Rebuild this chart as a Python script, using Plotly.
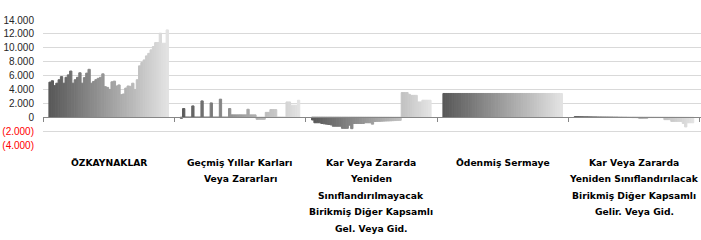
import plotly.graph_objects as go

categories = [
    "ÖZKAYNAKLAR",
    "Geçmiş Yıllar Karları<br>Veya Zararları",
    "Kar Veya Zararda<br>Yeniden<br>Sınıflandırılmayacak<br>Birikmiş Diğer Kapsamlı<br>Gel. Veya Gid.",
    "Ödenmiş Sermaye",
    "Kar Veya Zararda<br>Yeniden Sınıflandırılacak<br>Birikmiş Diğer Kapsamlı<br>Gelir. Veya Gid.",
]

years = [2011, 2012, 2013, 2014, 2015, 2016, 2017, 2018, 2019, 2020, 2021, 2022, 2023]
quarters = ["Q1", "Q2", "Q3", "Q4"]
periods = [f"{y} {q}" for y in years for q in quarters]

ozkaynaklar = [5050, 5250, 4550, 4900, 5400, 5850, 4900, 5750, 6100, 6650,
               4900, 5400, 5750, 6400, 4900, 5700, 6350, 6900, 4900, 5150,
               5400, 5600, 5750, 6250, 4400, 4300, 4000, 5100, 5200, 4500,
               4650, 3250, 3350, 4200, 4500, 4450, 4900, 4000, 5400, 7400,
               7870, 8250, 8830, 9200, 9700, 10180, 10750, 10750, 12100, 10650,
               10650, 12580]

gecmis = [-150, 1250, 0, 0, 0, 1630, 0, 0, 0, 2350,
          0, 0, 0, 2060, 0, 0, 0, 2600, 0, 0,
          0, 1250, 340, 340, 340, 340, 340, 340, 340, 1150,
          340, 340, 340, -300, -300, -300, -300, 700, 700, 1100,
          1100, 1100, 0, 0, 0, 0, 2200, 2200, 1730, 1730,
          1730, 2450]

siniflandirilmayacak = [-400, -800, -800, -800, -900, -950, -1000, -1050, -1100, -1300,
                        -1300, -1300, -1300, -1600, -1600, -1600, -1150, -1650, -900, -900,
                        -900, -900, -900, -800, -800, -800, -1000, -620, -600, -600,
                        -580, -560, -550, -540, -520, -500, -480, -460, -450, 3550,
                        3550, 3550, 3300, 3150, 3150, 3150, 2200, 2200, 2450, 2450,
                        2450, 2450]

sermaye = [3420, 3420, 3420, 3420, 3420, 3420, 3420, 3420, 3420, 3420,
           3420, 3420, 3420, 3420, 3420, 3420, 3420, 3420, 3420, 3420,
           3420, 3420, 3420, 3420, 3420, 3420, 3420, 3420, 3420, 3420,
           3420, 3420, 3420, 3420, 3420, 3420, 3420, 3420, 3420, 3420,
           3420, 3420, 3420, 3420, 3420, 3420, 3420, 3420, 3420, 3420,
           3420, 3420]

siniflandirilacak = [80, 80, 70, 70, 60, 60, 50, 50, 40, 40,
                     30, 30, 20, 20, 20, 10, 10, 0, 0, -20,
                     -20, -30, -30, -40, -40, -50, -50, -60, -150, -150,
                     -150, -150, -50, -50, -50, -50, -50, -50, -50, -350,
                     -350, -350, -600, -600, -600, -600, -600, -900, -1400, -800,
                     -800, -800]

tick_vals = [-4000, -2000, 0, 2000, 4000, 6000, 8000, 10000, 12000, 14000]
tick_text = ["<span style='color:#ff0000'>(4.000)</span>",
             "<span style='color:#ff0000'>(2.000)</span>",
             "0", "2.000", "4.000", "6.000", "8.000", "10.000", "12.000", "14.000"]

series = [ozkaynaklar, gecmis, siniflandirilmayacak, sermaye, siniflandirilacak]
n = len(periods)

fig = go.Figure()
for i, p in enumerate(periods):
    t = i / (n - 1)
    g = int(round(88 + (226 - 88) * t))
    col = f"rgb({g},{g},{g})"
    fig.add_trace(go.Bar(
        x=categories,
        y=[s[i] for s in series],
        name=p,
        marker=dict(color=col, line=dict(width=1, color=col)),
    ))

ymin, ymax = -4000, 14000
fig.update_layout(
    width=701, height=240,
    margin=dict(l=43, r=0, t=20, b=95),
    barmode="group", bargap=0.09, bargroupgap=0,
    plot_bgcolor="white", paper_bgcolor="white",
    showlegend=False,
    xaxis=dict(
        type="category", anchor="free", position=(0 - ymin) / (ymax - ymin),
        showline=True, linecolor="#868686", linewidth=1,
        ticks="outside", ticklen=4, tickcolor="#868686", tickson="boundaries",
        showticklabels=False, showgrid=False, zeroline=False,
    ),
    yaxis=dict(
        range=[ymin, ymax], tickvals=tick_vals, ticktext=tick_text,
        showgrid=True, gridcolor="#d9d9d9", gridwidth=1,
        zeroline=False, showline=False, ticks="",
        tickfont=dict(family="Liberation Sans", size=10, color="#262626"),
        ticklabelstandoff=8,
    ),
)

line_gap = 16.5
for c in categories:
    for k, line in enumerate(c.split("<br>")):
        fig.add_annotation(
            x=c, xref="x", y=0, yref="paper",
            text=f"<b>{line}</b>", showarrow=False,
            yanchor="middle", xanchor="center",
            yshift=-(17 + k * line_gap),
            font=dict(family="DejaVu Sans", size=9.2, color="#000000"),
        )

fig.write_html("out.html")
